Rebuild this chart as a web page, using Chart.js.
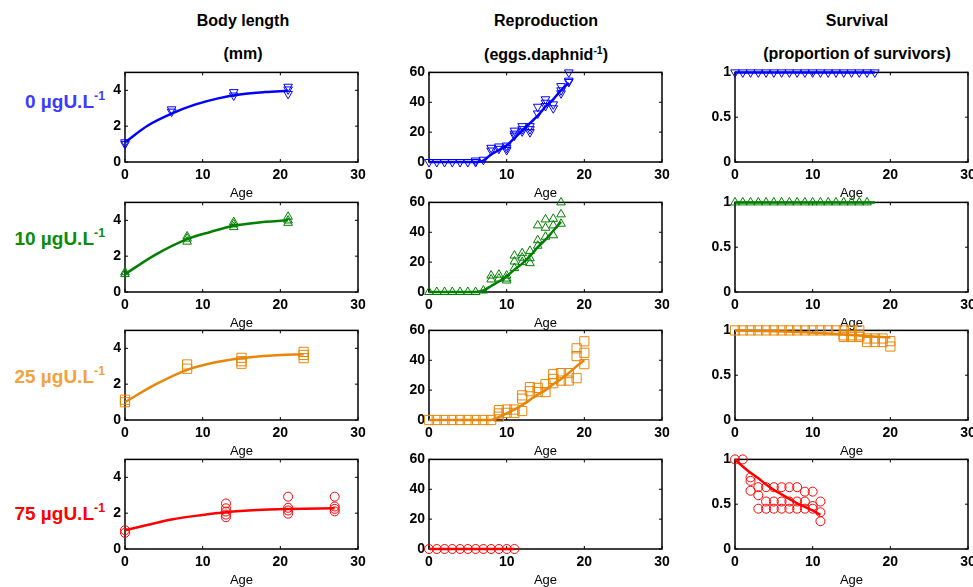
<!DOCTYPE html>
<html>
<head>
<meta charset="utf-8">
<script src="https://cdn.jsdelivr.net/npm/chart.js@4/dist/chart.umd.min.js"></script>
<style>
  html, body { margin: 0; padding: 0; background: #fff; overflow: hidden; }
  body { width: 973px; height: 587px; position: relative; font-family: "Liberation Sans", Arial, sans-serif; }
  canvas { position: absolute; }
  .t { position: absolute; font-weight: bold; font-size: 16px; color: #000; transform: translateX(-50%); white-space: nowrap; }
  .r { position: absolute; font-weight: bold; font-size: 19px; right: 868px; white-space: nowrap; transform: translateY(-50%); }
  sup { font-size: 0.65em; }
</style>
</head>
<body>
<div class="t" style="left:243px;top:12px">Body length</div>
<div class="t" style="left:243px;top:45px">(mm)</div>
<div class="t" style="left:546px;top:12px">Reproduction</div>
<div class="t" style="left:546px;top:45px">(eggs.daphnid<sup>-1</sup>)</div>
<div class="t" style="left:857px;top:12px">Survival</div>
<div class="t" style="left:857px;top:45px">(proportion of survivors)</div>
<div class="r" style="top:101px;color:#3b3bff">0 µgU.L<sup>-1</sup></div>
<div class="r" style="top:238px;color:#0a8c0a">10 µgU.L<sup>-1</sup></div>
<div class="r" style="top:376px;color:#f5a23c">25 µgU.L<sup>-1</sup></div>
<div class="r" style="top:513px;color:#ff0000">75 µgU.L<sup>-1</sup></div>

<script>
// ---- Body length (mm) ----
const lenAge0 = [0, 0, 6, 6, 14, 14, 21, 21, 21];
const lenVal0 = [1.0, 1.1, 2.81, 2.94, 3.71, 3.9, 3.8, 4.05, 4.2];
const lenFitAge0 = [0, 3, 6, 9, 12, 15, 18, 21];
const lenFitVal0 = [1.1, 2.05, 2.7, 3.2, 3.55, 3.78, 3.9, 3.97];

const lenAge10 = [0, 0, 8, 8, 8, 14, 14, 14, 21, 21, 21];
const lenVal10 = [1.0, 1.1, 2.81, 2.98, 3.1, 3.62, 3.77, 3.9, 3.86, 3.99, 4.2];
const lenFitAge10 = [0, 4, 8, 11, 14, 17, 21];
const lenFitVal10 = [1.0, 2.1, 2.95, 3.35, 3.7, 3.87, 4.0];

const lenAge25 = [0, 0, 8, 8, 15, 15, 15, 23, 23, 23];
const lenVal25 = [0.99, 1.13, 2.86, 3.1, 3.14, 3.28, 3.47, 3.45, 3.63, 3.8];
const lenFitAge25 = [0, 4, 8, 12, 15, 19, 23];
const lenFitVal25 = [1.0, 2.0, 2.8, 3.25, 3.45, 3.6, 3.67];

const lenAge75 = [0, 0, 13, 13, 13, 13, 13, 21, 21, 21, 21, 27, 27, 27, 27];
const lenVal75 = [0.9, 1.05, 1.77, 1.92, 2.09, 2.27, 2.54, 1.97, 2.15, 2.3, 2.92, 2.1, 2.24, 2.37, 2.92];
const lenFitAge75 = [0, 3, 6, 10, 13, 17, 21, 27];
const lenFitVal75 = [1.05, 1.35, 1.65, 1.9, 2.05, 2.17, 2.23, 2.28];

// ---- Reproduction (eggs per daphnid) ----
const repAge0 = [0, 1, 2, 3, 4, 5, 6, 6, 7, 8, 8, 9, 9, 10, 10, 10, 11, 11, 11, 12, 12, 12, 13, 13, 13, 14, 14, 15, 15, 15, 16, 16, 17, 17, 17, 18, 18, 18];
const repVal0 = [0, 0, 0, 0, 0, 0, 0, 1, 1.5, 9.5, 7.7, 10.4, 8.8, 11, 9.5, 8, 21, 19, 17.7, 24, 22, 20.5, 24, 22, 20, 37, 32.5, 42, 39.7, 37.5, 38.6, 36, 50.8, 48, 46, 60, 54.5, 53.6];
const repFitAge0 = [0, 6, 7, 8, 9, 10, 11, 12, 13, 14, 15, 16, 17, 18];
const repFitVal0 = [0, 0, 1, 5, 8, 11, 16, 21, 26, 31, 37, 42, 48, 53];

const repAge10 = [0, 1, 2, 3, 4, 5, 6, 7, 8, 8, 9, 9, 10, 10, 10, 11, 11, 11, 12, 12, 12, 13, 13, 13, 14, 14, 14, 15, 15, 15, 16, 16, 16, 17, 17, 17];
const repVal10 = [0, 0, 0, 0, 0, 0, 0, 1, 11, 8.4, 11.6, 9, 11, 9, 7.7, 24.4, 20.4, 16, 26, 23, 20, 27.5, 22.6, 19.3, 44.6, 34.7, 31, 48.6, 43, 37, 49, 44.6, 38, 60, 52, 45.7];
const repFitAge10 = [0, 6, 7, 8, 9, 10, 11, 12, 13, 14, 15, 16, 17];
const repFitVal10 = [0, 0, 1, 4, 7, 10.5, 15, 19, 24, 30, 35, 41, 47];

const repAge25 = [0, 1, 2, 3, 4, 5, 6, 7, 8, 9, 9, 9, 10, 10, 11, 11, 12, 12, 12, 13, 13, 14, 14, 15, 15, 16, 16, 16, 17, 17, 18, 18, 19, 19, 19, 20, 20, 20];
const repVal25 = [0, 0, 0, 0, 0, 0, 0, 0, 0, 6.6, 4.4, 2.2, 7, 4.8, 7, 4.8, 16.5, 14.3, 6, 22, 19.3, 21.5, 18.7, 24, 18.7, 30.8, 27.5, 24.6, 31.4, 26.4, 31.4, 26.4, 48, 42.8, 28, 52.7, 45, 37.4];
const repFitAge25 = [0, 8, 9, 10, 11, 12, 13, 14, 15, 16, 17, 18, 19, 20];
const repFitVal25 = [0, 0, 2, 4.5, 7, 10, 13.5, 17, 20, 24, 27.5, 31.5, 36, 40];

const repAge75 = [0, 1, 2, 3, 4, 5, 6, 7, 8, 9, 10, 11];
const repVal75 = [0, 0, 0, 0, 0, 0, 0, 0, 0, 0, 0, 0];
const repFitAge75 = [0, 11];
const repFitVal75 = [0, 0];

// ---- Survival (proportion of survivors) ----
const surAge0 = [0, 1, 2, 3, 4, 5, 6, 7, 8, 9, 10, 11, 12, 13, 14, 15, 16, 17, 18];
const surVal0 = [1, 1, 1, 1, 1, 1, 1, 1, 1, 1, 1, 1, 1, 1, 1, 1, 1, 1, 1];
const surFitAge0 = [0, 18];
const surFitVal0 = [1, 1];

const surAge10 = [0, 1, 2, 3, 4, 5, 6, 7, 8, 9, 10, 11, 12, 13, 14, 15, 16, 17];
const surVal10 = [1, 1, 1, 1, 1, 1, 1, 1, 1, 1, 1, 1, 1, 1, 1, 1, 1, 1];
const surFitAge10 = [0, 18];
const surFitVal10 = [1, 1];

const surAge25 = [0, 1, 2, 3, 4, 5, 6, 7, 8, 9, 10, 11, 12, 13, 14, 15, 16, 14, 14, 15, 15, 16, 16, 17, 17, 18, 18, 19, 19, 20, 20];
const surVal25 = [1, 1, 1, 1, 1, 1, 1, 1, 1, 1, 1, 1, 1, 1, 1, 1, 1, 0.945, 0.927, 0.945, 0.927, 0.945, 0.927, 0.91, 0.87, 0.91, 0.87, 0.91, 0.87, 0.88, 0.82];
const surFitAge25 = [0, 5, 10, 15, 20];
const surFitVal25 = [1.0, 0.99, 0.975, 0.95, 0.92];

const surAge75 = [0, 1, 2, 2, 2, 3, 3, 3, 4, 4, 4, 5, 5, 5, 6, 6, 6, 7, 7, 7, 8, 8, 8, 9, 9, 9, 10, 10, 10, 11, 11, 11];
const surVal75 = [1, 1, 0.8, 0.76, 0.65, 0.69, 0.6, 0.45, 0.69, 0.53, 0.45, 0.69, 0.53, 0.45, 0.69, 0.53, 0.45, 0.69, 0.53, 0.45, 0.69, 0.53, 0.45, 0.64, 0.53, 0.45, 0.64, 0.48, 0.45, 0.53, 0.41, 0.31];
const surFitAge75 = [0, 1, 2, 3, 4, 5, 6, 7, 8, 9, 10, 11];
const surFitVal75 = [1.0, 0.92, 0.85, 0.79, 0.72, 0.66, 0.61, 0.56, 0.51, 0.47, 0.43, 0.38];

const xTicks = [0, 10, 20, 30];

function pts(xs, ys) {
    return xs.map((x, i) => ({ x: x, y: ys[i] }));
}

// matlab-like closed box with small inward ticks
const boxPlugin = {
    id: 'box',
    beforeDatasetsDraw(chart) {
        const ctx = chart.ctx, a = chart.chartArea;
        const sx = chart.scales.x, sy = chart.scales.y;
        ctx.save();
        ctx.strokeStyle = '#000';
        ctx.lineWidth = 1.5;
        ctx.strokeRect(a.left, a.top, a.right - a.left, a.bottom - a.top);
        ctx.lineWidth = 1;
        ctx.beginPath();
        sx.ticks.forEach(t => {
            const p = sx.getPixelForValue(t.value);
            ctx.moveTo(p, a.bottom); ctx.lineTo(p, a.bottom - 3);
            ctx.moveTo(p, a.top); ctx.lineTo(p, a.top + 3);
        });
        sy.ticks.forEach(t => {
            const p = sy.getPixelForValue(t.value);
            ctx.moveTo(a.left, p); ctx.lineTo(a.left + 3, p);
            ctx.moveTo(a.right, p); ctx.lineTo(a.right - 3, p);
        });
        ctx.stroke();
        ctx.restore();
    }
};

const colLeft = [85, 389, 695];
const rowTop = [60, 190, 318, 447];

function panel(col, row, yMax, yStep, obs, fit, color, style, rot, rad) {
    const cv = document.createElement('canvas');
    cv.width = 287; cv.height = 141;
    cv.style.left = colLeft[col] + 'px';
    cv.style.top = rowTop[row] + 'px';
    document.body.appendChild(cv);
    new Chart(cv, {
        type: 'scatter',
        data: {
            datasets: [{
                data: obs,
                pointStyle: style,
                rotation: rot,
                pointRadius: rad,
                borderColor: color,
                backgroundColor: 'rgba(0,0,0,0)',
                borderWidth: 1,
                clip: false
            }, {
                data: fit,
                showLine: true,
                pointRadius: 0,
                borderColor: color,
                borderWidth: 2.5,
                cubicInterpolationMode: 'monotone',
                clip: false
            }]
        },
        options: {
            responsive: false,
            animation: false,
            events: [],
            layout: { padding: { top: 6, right: 14, left: 0, bottom: 0 } },
            plugins: { legend: { display: false }, tooltip: { enabled: false } },
            scales: {
                x: {
                    type: 'linear', min: 0, max: 30,
                    afterBuildTicks: s => { s.ticks = xTicks.map(v => ({ value: v })); },
                    afterFit: s => { s.height = 39; },
                    grid: { display: false, drawTicks: false },
                    border: { display: false },
                    ticks: { padding: 5, color: '#000', font: { family: 'Liberation Sans', size: 14, weight: 'bold' }, maxRotation: 0 },
                    title: { display: true, text: 'Age', color: '#000', padding: 0, font: { family: 'Liberation Sans', size: 13 } }
                },
                y: {
                    type: 'linear', min: 0, max: yMax,
                    afterFit: s => { s.width = 40; },
                    grid: { display: false, drawTicks: false },
                    border: { display: false },
                    ticks: {
                        stepSize: yStep, includeBounds: false, padding: 4, color: '#000',
                        font: { family: 'Liberation Sans', size: 14, weight: 'bold' },
                        callback: v => String(v)
                    }
                }
            }
        },
        plugins: [boxPlugin]
    });
}

const blue = '#0000ff', green = '#008000', orange = '#e8860a', red = '#ff0000';

panel(0, 0, 5, 2, pts(lenAge0, lenVal0), pts(lenFitAge0, lenFitVal0), blue, 'triangle', 180, 5);
panel(1, 0, 60, 20, pts(repAge0, repVal0), pts(repFitAge0, repFitVal0), blue, 'triangle', 180, 5);
panel(2, 0, 1, 0.5, pts(surAge0, surVal0), pts(surFitAge0, surFitVal0), blue, 'triangle', 180, 5);

panel(0, 1, 5, 2, pts(lenAge10, lenVal10), pts(lenFitAge10, lenFitVal10), green, 'triangle', 0, 5);
panel(1, 1, 60, 20, pts(repAge10, repVal10), pts(repFitAge10, repFitVal10), green, 'triangle', 0, 5);
panel(2, 1, 1, 0.5, pts(surAge10, surVal10), pts(surFitAge10, surFitVal10), green, 'triangle', 0, 5);

panel(0, 2, 5, 2, pts(lenAge25, lenVal25), pts(lenFitAge25, lenFitVal25), orange, 'rect', 0, 6.5);
panel(1, 2, 60, 20, pts(repAge25, repVal25), pts(repFitAge25, repFitVal25), orange, 'rect', 0, 6.5);
panel(2, 2, 1, 0.5, pts(surAge25, surVal25), pts(surFitAge25, surFitVal25), orange, 'rect', 0, 6.5);

panel(0, 3, 5, 2, pts(lenAge75, lenVal75), pts(lenFitAge75, lenFitVal75), red, 'circle', 0, 4.5);
panel(1, 3, 60, 20, pts(repAge75, repVal75), pts(repFitAge75, repFitVal75), red, 'circle', 0, 4.5);
panel(2, 3, 1, 0.5, pts(surAge75, surVal75), pts(surFitAge75, surFitVal75), red, 'circle', 0, 4.5);
</script>
</body>
</html>
